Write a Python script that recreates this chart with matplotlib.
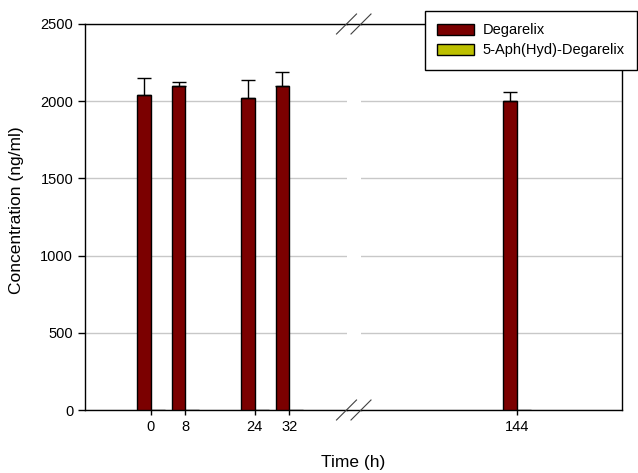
import numpy as np
import matplotlib.pyplot as plt
from matplotlib.lines import Line2D

plt.rcParams['font.family'] = ['Liberation Sans', 'DejaVu Sans']

# data
times_left = [0, 8, 24, 32]
times_right = [144]
degarelix = [2040, 2100, 2020, 2100, 2000]
degarelix_err = [110, 26, 120, 90, 60]
metabolite = [0, 0, 0, 0, 0]
series_names = ['Degarelix', '5-Aph(Hyd)-Degarelix']
colors = ['#7b0000', '#bdc000']
yticks = [0, 500, 1000, 1500, 2000, 2500]

W, H = 638, 473
fig = plt.figure(figsize=(W / 100, H / 100), dpi=100)

def px_axes(x0, x1, ytop, ybot):
    return fig.add_axes([x0 / W, 1 - ybot / H, (x1 - x0) / W, (ybot - ytop) / H])

ytop, ybot = 24, 410
ax1 = px_axes(85, 347, ytop, ybot)
ax2 = px_axes(361, 622, ytop, ybot)

bw = 3.2
n = len(times_left)
for ax, t, vals, errs, mvals in [
    (ax1, times_left, degarelix[:n], degarelix_err[:n], metabolite[:n]),
    (ax2, times_right, degarelix[n:], degarelix_err[n:], metabolite[n:]),
]:
    t = np.array(t, dtype=float)
    ax.bar(t - bw / 2, vals, width=bw, color=colors[0], edgecolor='black',
           linewidth=1, zorder=3, label=series_names[0])
    ax.bar(t + bw / 2, mvals, width=bw, color=colors[1], edgecolor='black',
           linewidth=1, zorder=3, label=series_names[1])
    ax.errorbar(t - bw / 2, vals, yerr=[np.zeros(len(vals)), errs], fmt='none',
                ecolor='black', elinewidth=1, capsize=5, capthick=1, zorder=4)
    ax.set_ylim(0, 2500)
    ax.set_yticks(yticks)
    ax.set_xticks(t)
    ax.set_xticklabels([f'{int(v)}' for v in t])
    ax.grid(axis='y', color='#c8c8c8', linewidth=1, zorder=0)
    ax.tick_params(axis='x', length=3.5, width=1, labelsize=10.5, pad=4)
    ax.tick_params(axis='y', length=5, width=1, labelsize=10.5)
    for s in ax.spines.values():
        s.set_linewidth(1)

ax1.set_xlim(-15.2, 45.3)
ax2.set_xlim(108, 168.2)
ax1.spines['right'].set_visible(False)
ax2.spines['left'].set_visible(False)
ax2.tick_params(axis='y', left=False, labelleft=False)

# bridge the axis lines across the break, with break marks
for yy in (ytop, ybot):
    yf = 1 - yy / H
    fig.add_artist(Line2D([347 / W, 361 / W], [yf, yf], color='black', lw=1))
    for xc in (346.5, 361):
        fig.add_artist(Line2D([(xc - 10) / W, (xc + 10) / W],
                              [1 - (yy + 10) / H, 1 - (yy - 10) / H],
                              color='#404040', lw=0.8))

fig.text(353.5 / W, 1 - 462 / H, 'Time (h)', ha='center', va='center', fontsize=12.5)
fig.text(17 / W, 1 - 210 / H, 'Concentration (ng/ml)', ha='center', va='center',
         rotation=90, fontsize=12.5)

handles, labels = ax1.get_legend_handles_labels()
leg = fig.legend(handles, labels, loc='upper right',
                 bbox_to_anchor=(637 / W, 1 - 11 / H),
                 fancybox=False, edgecolor='black', framealpha=1, fontsize=10.5,
                 handlelength=2.5, handleheight=0.8, borderpad=0.85, labelspacing=0.4,
                 handletextpad=0.6, borderaxespad=0)
leg.get_frame().set_linewidth(1)
leg.set_zorder(10)

fig.savefig('out.png', dpi=100)
